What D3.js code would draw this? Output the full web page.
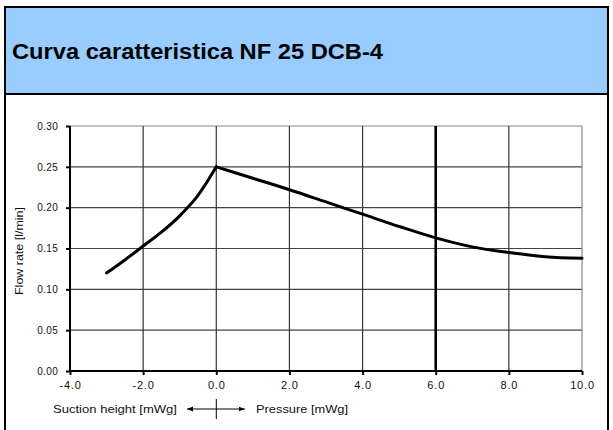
<!DOCTYPE html>
<html>
<head>
<meta charset="utf-8">
<script src="https://cdn.jsdelivr.net/npm/d3@7"></script>
<style>
	body { margin: 0; background: #fff; }
	svg { display: block; font-family: Arial, "Liberation Sans", sans-serif; }
</style>
</head>
<body>
<svg id="chart" width="613" height="430"></svg>
<script>
// curve
var pressure = [-3.0, -2.5, -2.0, -1.5, -1.0, -0.5, 0.0, 1.0, 2.0, 3.0, 4.0, 5.0, 6.0, 7.0, 8.0, 9.0, 10.0];
var flowRate = [0.120, 0.136, 0.153, 0.170, 0.190, 0.215, 0.250, 0.236, 0.222, 0.207, 0.192, 0.177, 0.163, 0.152, 0.145, 0.140, 0.138];

var xTicks = [-4, -2, 0, 2, 4, 6, 8, 10];
var yTicks = [0, 0.05, 0.10, 0.15, 0.20, 0.25, 0.30];
var markerX = [6];

var title = 'Curva caratteristica NF 25 DCB-4';
var yLabel = 'Flow rate [l/min]';
var leftLabel = 'Suction height [mWg]';
var rightLabel = 'Pressure [mWg]';

var svg = d3.select('#chart');

// frame and header
svg.append('rect')
	.attr('x', 0).attr('y', 0).attr('width', 613).attr('height', 430)
	.attr('fill', '#fff');
svg.append('rect')
	.attr('x', 5).attr('y', 7).attr('width', 603).attr('height', 87)
	.attr('fill', '#99ccff');
svg.append('path')
	.attr('d', 'M5,440V7H608V440M5,94H608')
	.attr('fill', 'none')
	.attr('stroke', '#000')
	.attr('stroke-width', 2);
svg.append('text')
	.attr('x', 12).attr('y', 59)
	.attr('font-size', 22)
	.attr('font-weight', 'bold')
	.attr('textLength', 371)
	.attr('lengthAdjust', 'spacingAndGlyphs')
	.text(title);

var x = d3.scaleLinear().domain([-4, 10]).range([70, 582]);
var y = d3.scaleLinear().domain([0, 0.30]).range([371, 126]);

// grid
var grid = svg.append('g');
grid.selectAll('.hgrid').data(yTicks.slice(1)).enter()
	.append('line').attr('class', 'hgrid')
	.attr('x1', x(-4)).attr('x2', x(10))
	.attr('y1', function (d) { return y(d); })
	.attr('y2', function (d) { return y(d); })
	.attr('stroke', function (d) { return d === 0.30 ? '#888' : '#444'; })
	.attr('stroke-width', 1.2);
grid.selectAll('.vgrid').data(xTicks.slice(1)).enter()
	.append('line').attr('class', 'vgrid')
	.attr('y1', y(0)).attr('y2', y(0.30))
	.attr('x1', function (d) { return x(d); })
	.attr('x2', function (d) { return x(d); })
	.attr('stroke', function (d) { return d === 10 ? '#888' : '#333'; })
	.attr('stroke-width', 1.2);
grid.selectAll('.marker').data(markerX).enter()
	.append('line').attr('class', 'marker')
	.attr('y1', y(0)).attr('y2', y(0.30))
	.attr('x1', function (d) { return x(d); })
	.attr('x2', function (d) { return x(d); })
	.attr('stroke', '#000')
	.attr('stroke-width', 2.6);

// axes (plain hyphen minus like the original, not d3's unicode minus)
var fmt1 = function (d) { return d.toFixed(1); };
var xAxis = d3.axisBottom(x).tickValues(xTicks).tickSize(4).tickPadding(6)
	.tickFormat(fmt1);
var gx = svg.append('g').attr('transform', 'translate(0,' + y(0) + ')').call(xAxis);
gx.select('.domain').attr('stroke-width', 2).attr('d', 'M' + x(-4) + ',0H' + x(10));
gx.selectAll('.tick line').attr('stroke-width', 2);
gx.selectAll('.tick text').attr('font-size', 11).attr('fill', '#111')
	.attr('letter-spacing', 0.8)
	.attr('font-family', 'Arial, "Liberation Sans", sans-serif');

var yAxis = d3.axisLeft(y).tickValues(yTicks).tickSize(4).tickPadding(8)
	.tickFormat(function (d) { return d.toFixed(2); });
var gy = svg.append('g').attr('transform', 'translate(' + x(-4) + ',0)').call(yAxis);
gy.select('.domain').attr('stroke-width', 2).attr('d', 'M0,' + y(0) + 'V' + y(0.30));
gy.selectAll('.tick line').attr('stroke-width', 2);
gy.selectAll('.tick text').attr('font-size', 10).attr('fill', '#111')
	.attr('letter-spacing', 0.3)
	.attr('font-family', 'Arial, "Liberation Sans", sans-serif');

svg.append('text')
	.attr('transform', 'translate(23,251) rotate(-90)')
	.attr('text-anchor', 'middle')
	.attr('font-size', 11)
	.attr('fill', '#111')
	.attr('textLength', 88)
	.attr('lengthAdjust', 'spacingAndGlyphs')
	.text(yLabel);

// curve
var line = d3.line()
	.x(function (d) { return x(d[0]); })
	.y(function (d) { return y(d[1]); })
	.curve(d3.curveMonotoneX);
var pts = pressure.map(function (p, i) { return [p, flowRate[i]]; });
// the peak is a corner, so draw both branches separately
svg.append('path')
	.attr('d', line(pts.filter(function (d) { return d[0] <= 0; })))
	.attr('fill', 'none').attr('stroke', '#000').attr('stroke-width', 3)
	.attr('stroke-linecap', 'round');
svg.append('path')
	.attr('d', line(pts.filter(function (d) { return d[0] >= 0; })))
	.attr('fill', 'none').attr('stroke', '#000').attr('stroke-width', 3)
	.attr('stroke-linecap', 'round');

// direction legend under the axis
var defs = svg.append('defs');
defs.append('marker')
	.attr('id', 'arrow')
	.attr('viewBox', '0 0 10 10')
	.attr('refX', 10).attr('refY', 5)
	.attr('markerWidth', 6).attr('markerHeight', 6)
	.attr('orient', 'auto-start-reverse')
	.append('path').attr('d', 'M0,1L10,5L0,9Z').attr('fill', '#000');

var ay = 409;
svg.append('line')
	.attr('x1', x(-0.8)).attr('x2', x(0.78))
	.attr('y1', ay).attr('y2', ay)
	.attr('stroke', '#000').attr('stroke-width', 1)
	.attr('marker-start', 'url(#arrow)')
	.attr('marker-end', 'url(#arrow)');
svg.append('line')
	.attr('x1', x(0)).attr('x2', x(0))
	.attr('y1', ay - 10).attr('y2', ay + 10)
	.attr('stroke', '#000').attr('stroke-width', 1);
svg.append('text')
	.attr('x', 53).attr('y', 413)
	.attr('font-size', 11).attr('fill', '#111')
	.attr('textLength', 124)
	.attr('lengthAdjust', 'spacingAndGlyphs')
	.text(leftLabel);
svg.append('text')
	.attr('x', 256).attr('y', 413)
	.attr('font-size', 11).attr('fill', '#111')
	.attr('textLength', 92)
	.attr('lengthAdjust', 'spacingAndGlyphs')
	.text(rightLabel);
</script>
</body>
</html>
